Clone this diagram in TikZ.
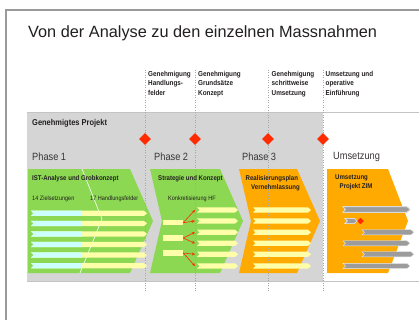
\documentclass[tikz,border=0pt]{standalone}
\usepackage{fontspec}
\setmainfont{Liberation Sans}
\newfontfamily\condfont[FakeStretch=0.88]{Liberation Sans}
\usetikzlibrary{arrows.meta,shapes.geometric}
\definecolor{panelgray}{HTML}{D5D5D5}
\definecolor{frameg}{HTML}{9A9A9A}
\definecolor{linegray}{HTML}{C4C4C4}
\definecolor{phgreen}{HTML}{8CD852}
\definecolor{phorange}{HTML}{FFAA00}
\definecolor{baryel}{HTML}{FFFFAA}
\definecolor{barcyan}{HTML}{CCFFFF}
\definecolor{bargray}{HTML}{9C9C9C}
\definecolor{gatered}{HTML}{FF2A00}
\definecolor{txt}{HTML}{231F20}
\newcommand\arrowbar[4]{%
  \filldraw[#4] (#1,#3-2.6) -- (#2-3,#3-2.6) -- (#2,#3) -- (#2-3,#3+2.6) -- (#1,#3+2.6) -- (#1+2.5,#3) -- cycle;}
\newcommand\cyanpart[1]{%
  \fill[barcyan] (31,#1-2.6) -- (82,#1-2.6) -- (82,#1+2.6) -- (31,#1+2.6) -- (33.5,#1) -- cycle;}
\begin{document}
\begin{tikzpicture}[x=1pt,y=-1pt,
  gatelbl/.style={anchor=north west, inner sep=0, align=left, text=txt,
    font=\condfont\bfseries\fontsize{7.2}{9.5}\selectfont},
  phaselbl/.style={anchor=west, inner sep=0, text=txt!90,
    font=\condfont\fontsize{10.5}{12}\selectfont},
  boxtitle/.style={anchor=west, inner sep=0, text=txt,
    font=\condfont\bfseries\fontsize{6.9}{8}\selectfont},
  smalllbl/.style={anchor=west, inner sep=0, text=txt,
    font=\condfont\fontsize{6.3}{8}\selectfont},
  gate/.style={diamond, fill=gatered, minimum width=12, minimum height=12, inner sep=0},
  minigate/.style={diamond, fill=gatered, minimum width=6, minimum height=6, inner sep=0},
  gateline/.style={gray!70, dotted, line width=0.5},
  stub/.style={rectangle, fill=baryel, minimum width=20, minimum height=5.2, inner sep=0},
  redarrow/.style={gatered, line width=0.6, -{Stealth[length=3.2pt,width=3pt]}},
  yelbar/.style={fill=baryel, draw=none},
  graybar/.style={fill=bargray, draw=white!80!bargray, line width=0.4}]
\useasboundingbox (0,0) rectangle (419,320);
\fill[white] (0,0) rectangle (419,320);
% frame
\draw[frameg, line width=2.5] (6,320) -- (6,10) -- (419,10);
% title
\node[anchor=base west, inner sep=0, text=txt, font=\fontsize{16.3}{18}\selectfont] (title) at (28,38) {Von der Analyse zu den einzelnen Massnahmen};
% gate labels
\node[gatelbl] (g1) at (148,71) {Genehmigung\\Handlungs-\\felder};
\node[gatelbl] (g2) at (198,71) {Genehmigung\\Grundsätze\\Konzept};
\node[gatelbl] (g3) at (271.5,71) {Genehmigung\\schrittweise\\Umsetzung};
\node[gatelbl] (g4) at (325.5,71) {Umsetzung und\\operative\\Einführung};
% panel
\fill[panelgray] (27,112) rectangle (323,281);
\draw[linegray, line width=0.8] (27,112) -- (419,112);
\draw[linegray, line width=0.8] (27,281) -- (419,281);
\node[anchor=west, inner sep=0, text=txt, font=\condfont\bfseries\fontsize{8.5}{10}\selectfont] (proj) at (32,123) {Genehmigtes Projekt};
% phase labels
\node[phaselbl] (ph1) at (32,157) {Phase 1};
\node[phaselbl] (ph2) at (154,157) {Phase 2};
\node[phaselbl] (ph3) at (242,157) {Phase 3};
\node[phaselbl] (ph4) at (333,157) {Umsetzung};
% chevrons
\fill[phgreen] (28,169) -- (130,169) -- (153,221) -- (130,273) -- (28,273) -- cycle;
\draw[white, line width=0.6] (82,169) -- (102,219) -- (80,273);
\fill[phgreen] (150,169) -- (220,169) -- (243,221) -- (220,273) -- (150,273) -- (162,221) -- cycle;
\fill[phorange] (239,169) -- (297,169) -- (320,221) -- (297,273) -- (239,273) -- (251,221) -- cycle;
\fill[phorange] (327,169) -- (388,169) -- (408,221) -- (388,273) -- (327,273) -- cycle;
% gate lines
\foreach \gx in {145,195,268,323} \draw[gateline] (\gx,70) -- (\gx,292);
% gates
\node[gate] (d1) at (145,139) {};
\node[gate] (d2) at (195,139) {};
\node[gate] (d3) at (268,139) {};
\node[gate] (d4) at (323,139) {};
% texts in chevrons
\node[boxtitle] (t1) at (32,179) {IST-Analyse und Grobkonzept};
\node[smalllbl] (t1a) at (32,199) {14 Zielsetzungen};
\node[smalllbl] (t1b) at (90,199) {17 Handlungsfelder};
\node[boxtitle] (t2) at (158,179) {Strategie und Konzept};
\node[smalllbl] (t2a) at (168,199) {Konkretisierung HF};
\node[boxtitle] (t3) at (245.5,179) {Realisierungsplan};
\node[boxtitle] (t3b) at (251,188) {Vernehmlassung};
\node[boxtitle] (t4) at (335,178) {Umsetzung};
\node[boxtitle] (t4b) at (339.5,187) {Projekt ZIM};
% phase 1 bars
\foreach \by in {213.3,223.5,234,244.5,255,265.7} {
  \arrowbar{31}{147}{\by}{yelbar}
  \cyanpart{\by}
}
% phase 2 bars
\foreach \by [count=\i] in {210,221,232.3,243.3,254.3,266} {
  \arrowbar{197}{238}{\by}{yelbar}
  \coordinate (b\i) at (195,\by);
}
\node[stub] (s1) at (173,222.7) {};
\node[stub] (s2) at (173,238) {};
\node[stub] (s3) at (173,253) {};
\draw[redarrow] (s1.east) -- (b1);
\draw[redarrow] (s1.east) -- (b2);
\draw[redarrow] (s2.east) -- (b3);
\draw[redarrow] (s2.east) -- (b4);
\draw[redarrow] (s3.east) -- (b5);
\draw[redarrow] (s3.east) -- (b6);
% phase 3 bars
\foreach \by in {210,221,232.3,243.3,254.3,266} \arrowbar{253}{311}{\by}{yelbar}
% Umsetzung bars
\arrowbar{343}{410}{209.5}{graybar}
\arrowbar{345}{357}{221}{graybar}
\node[minigate] (m1) at (360.5,221) {};
\arrowbar{362}{414}{232.3}{graybar}
\arrowbar{343}{410}{243.3}{graybar}
\arrowbar{362}{414}{254.3}{graybar}
\arrowbar{343}{410}{266}{graybar}
\end{tikzpicture}
\end{document}
